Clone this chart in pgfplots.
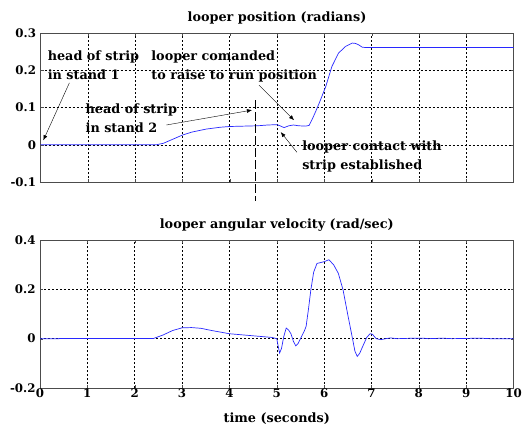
\documentclass[border=0pt]{standalone}
\usepackage{fontspec}
\setmainfont{DejaVu Serif}
\usepackage{pgfplots}
\pgfplotsset{compat=1.18}
\usetikzlibrary{arrows.meta}

\definecolor{mblue}{RGB}{40,40,255}
\newcommand{\lab}{\fontsize{12.8}{18.5}\selectfont\bfseries}
\newcommand{\ttl}{\fontsize{12.8}{15}\selectfont\bfseries}
\newcommand{\tkl}{\fontsize{11.8}{13}\selectfont\bfseries}

\pgfplotsset{
  loop/.style={
    scale only axis, clip=false,
    xmin=0, xmax=10, xtick={0,1,...,10},
    grid=major,
    major grid style={black, dash pattern=on 2pt off 2pt, line width=0.5pt},
    axis line style={black!70, line width=0.6pt},
    tick style={black!70},
    major tick length=3pt,
    tick align=inside,
    ticklabel style={font=\tkl},
    xticklabel style={yshift=3pt},
    yticklabel style={xshift=-1pt},
    /pgf/number format/assume math mode=true,
    /pgf/number format/fixed,
    title style={font=\ttl, yshift=-1pt},
    label style={font=\ttl},
    xlabel style={yshift=-8pt},
  }
}

\begin{document}
\begin{tikzpicture}
\useasboundingbox (0,0) rectangle (526pt,-431pt);

% looper position
\begin{axis}[loop, name=top, at={(40.5pt,-33pt)}, anchor=north west,
  width=473pt, height=149pt,
  ymin=-0.1, ymax=0.3, ytick={-0.1,0,0.1,0.2,0.3},
  xticklabels={},
  title={looper position (radians)}]
\addplot[mblue, line width=0.7pt] coordinates {
 (0,0) (2.45,0) (2.6,0.004) (2.8,0.015) (3.0,0.026) (3.2,0.034) (3.5,0.042)
 (3.8,0.047) (4.0,0.049) (4.3,0.05) (4.6,0.051) (4.8,0.053) (5.0,0.054)
 (5.08,0.05) (5.15,0.046) (5.25,0.051) (5.35,0.053) (5.45,0.051) (5.6,0.05)
 (5.68,0.052) (5.75,0.07) (5.82,0.09) (5.89,0.111) (6.03,0.156) (6.16,0.21)
 (6.3,0.246) (6.45,0.264) (6.59,0.273) (6.66,0.272) (6.73,0.268) (6.8,0.262)
 (6.87,0.261) (10,0.261)
};
% annotations
\draw[black, dash pattern=on 9pt off 3pt] (axis cs:4.54,0.12) -- (axis cs:4.54,-0.15);
\node[font=\lab, align=left, anchor=north west, inner sep=0pt] at (axis cs:0.15,0.252)
  {head of strip\\in stand 1};
\draw[-{Latex[length=5pt,width=4pt]}] (axis cs:0.61,0.166) -- (axis cs:0.06,0.012);
\node[font=\lab, align=left, anchor=north west, inner sep=0pt] at (axis cs:2.34,0.252)
  {looper comanded\\to raise to run position};
\draw[-{Latex[length=5pt,width=4pt]}] (axis cs:4.62,0.16) -- (axis cs:5.36,0.066);
\node[font=\lab, align=left, anchor=north west, inner sep=0pt] at (axis cs:0.95,0.11)
  {head of strip\\in stand 2};
\draw[-{Latex[length=5pt,width=4pt]}] (axis cs:2.66,0.053) -- (axis cs:4.47,0.093);
\node[font=\lab, align=left, anchor=north west, inner sep=0pt] at (axis cs:5.53,0.01)
  {looper contact with\\strip established};
\draw[-{Latex[length=5pt,width=4pt]}] (axis cs:5.42,-0.02) -- (axis cs:5.08,0.034);
\end{axis}

% looper angular velocity
\begin{axis}[loop, name=bot, at={(40pt,-240pt)}, anchor=north west,
  width=473.5pt, height=148pt,
  ymin=-0.2, ymax=0.4, ytick={-0.2,0,0.2,0.4},
  xlabel={time (seconds)},
  title={looper angular velocity (rad/sec)}]
\addplot[mblue, line width=0.7pt] coordinates {
 (0,0) (0.4,0) (0.4,0.001) (2.4,0.001) (2.6,0.015) (2.8,0.033) (3.0,0.044)
 (3.2,0.045) (3.4,0.042) (3.6,0.034) (3.8,0.027) (4.0,0.02) (4.3,0.015)
 (4.6,0.01) (4.9,0.005) (5.0,0.0) (5.03,-0.03) (5.06,-0.058) (5.1,-0.04)
 (5.15,0.01) (5.2,0.043) (5.25,0.035) (5.3,0.02) (5.35,-0.01) (5.4,-0.029)
 (5.45,-0.02) (5.5,0.0) (5.58,0.03) (5.62,0.05) (5.67,0.12) (5.72,0.198)
 (5.78,0.27) (5.85,0.305) (6.0,0.312) (6.1,0.32) (6.2,0.3) (6.3,0.265)
 (6.4,0.198) (6.5,0.097) (6.6,0.0) (6.65,-0.05) (6.7,-0.072) (6.75,-0.06)
 (6.8,-0.038) (6.9,0.005) (6.97,0.02) (7.02,0.018) (7.1,0.0) (7.2,-0.004)
 (7.3,0.0) (7.4,0.003) (7.55,0.0) (7.9,0.002) (8.1,0.002) (8.2,0.0)
 (8.5,0.002) (8.7,0.0) (9.3,0.002) (9.5,0.0) (10,0)
};
\end{axis}
\end{tikzpicture}
\end{document}
